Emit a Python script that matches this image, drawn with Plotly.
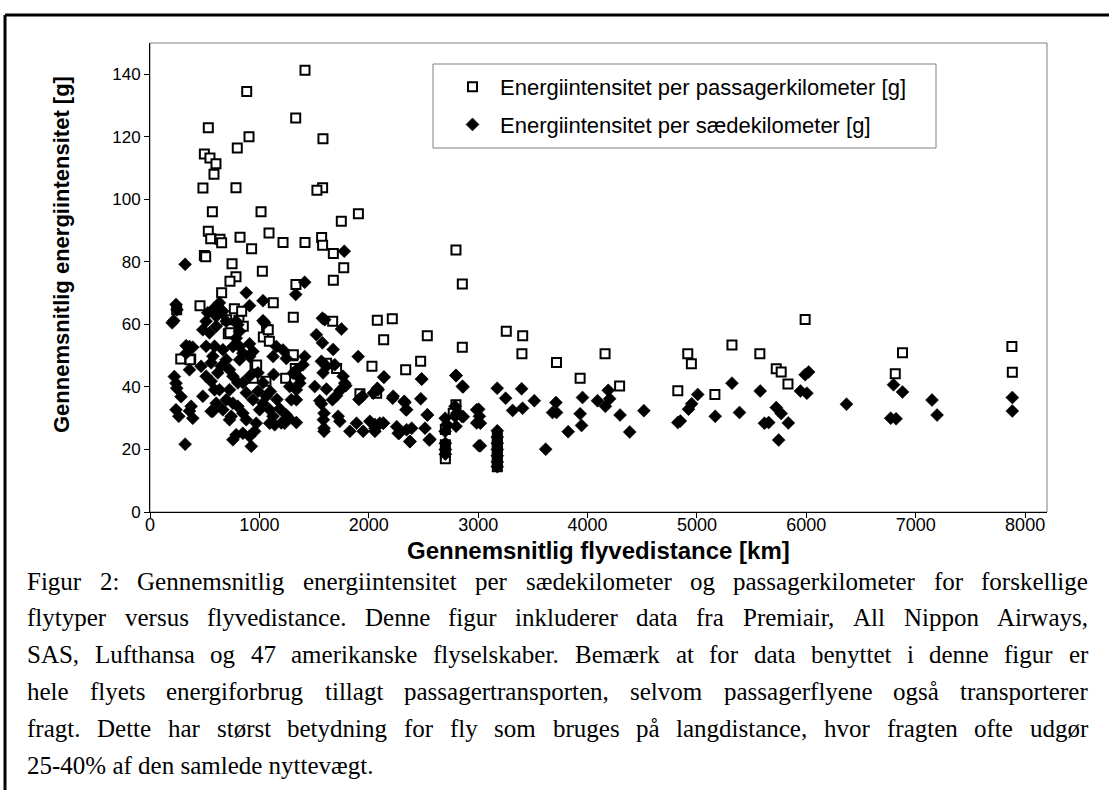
import plotly.graph_objects as go

# ---------------- data ----------------
pkm_x = [1417, 884, 1332, 533, 905, 1581, 798, 497, 548, 603, 585, 484, 786, 1578, 1526, 570, 1015,
         1749, 1905, 533, 555, 640, 655, 823, 929, 1088, 1216, 1417, 1569, 1578, 1676, 2797, 497, 509,
         750, 1027, 1771,
         786, 731, 1676, 1334, 2855, 655, 457, 1127, 771, 244, 1310, 1670, 2078, 2215, 2855, 2136, 2535,
         813, 853, 716, 1066, 1036, 1091, 701, 281, 372, 1304, 960, 1328, 2029, 2474, 2337, 1706, 1615,
         944, 1060, 1240, 1919, 2072, 2797, 2772, 838, 1081, 731, 1310, 366, 975,
         3257, 3407, 3400, 3716, 3932, 4160, 4293, 4825, 4916, 4949, 5164, 5320, 5575, 5725, 5770, 5832,
         5989, 6813, 6879, 7879, 7883,
         3175, 3175, 3175, 3175, 3175, 3175, 2700, 2700, 2700, 2700]
pkm_y = [141.3, 134.5, 126, 122.9, 120, 119.4, 116.4, 114.5, 113.2, 111.4, 108, 103.6, 103.7, 103.7, 102.9,
         96, 96, 93, 95.4, 89.8, 87.4, 87.2, 86.1, 87.9, 84.2, 89.2, 86.2, 86.2, 87.8, 85.3, 82.7, 83.8,
         82, 81.6, 79.4, 77, 78.1,
         75.2, 73.8, 74.1, 72.8, 72.9, 70.1, 66, 66.9, 65, 64.7, 62.3, 61, 61.3, 61.8, 52.7, 55.1, 56.4,
         61.3, 59.4, 57, 58.3, 56, 54.6, 61.5, 48.9, 48.9, 50, 46.6, 45.9, 46.6, 48.2, 45.5, 45.9, 47.6,
         42.8, 41.8, 42.8, 37.8, 38, 34.3, 31.6, 64.2, 58.3, 57.3, 50.3, 48.7, 47,
         57.8, 56.4, 50.6, 47.8, 42.8, 50.6, 40.3, 38.8, 50.6, 47.4, 37.6, 53.4, 50.6, 45.8, 44.8, 40.9,
         61.6, 44.2, 50.9, 52.9, 44.7,
         24, 22, 20, 18, 16, 14.5, 26.4, 21.5, 18.5, 17]

skm_x = [321, 238, 247, 217, 202, 1332, 1414, 880, 910, 1033,
         528, 590, 635, 513, 605, 666, 483, 544, 605, 697, 788, 803, 819, 788, 1033, 1048, 910, 941,
         910, 819, 849, 758, 1155, 1125, 1216, 1246, 1414, 1399, 1338, 1308, 1369, 1338, 1292, 1338,
         1277, 1369, 1338, 1231, 1246, 1521, 1576, 1674, 1750, 1576, 1597, 1567, 1582, 1613, 1689,
         1765, 1780, 1506, 1613, 1552, 1567, 1668, 1705, 1735, 1790, 1591, 1585, 1591, 1591, 1720,
         1735, 1903, 2138, 2086, 2223, 2330, 2346, 2484, 2475, 2536, 1941, 1910, 1827, 1888, 1949,
         2010, 2056, 2132, 2269, 2376, 2346, 2514, 2559, 2056, 2101,
         2698, 2713, 2789, 2789, 2798, 2850, 2804, 2698, 2700, 2700, 2700,
         2798, 2856, 3005, 3011, 3020, 3020,
         223, 238, 244, 284, 238, 263, 376, 391, 361, 321, 330, 361, 391, 330, 361,
         513, 590, 574, 467, 513, 559, 590, 483, 574, 651, 697, 727, 758, 803, 727, 697, 758, 742,
         788, 758, 849, 910, 956, 926, 971, 1002, 1033, 941, 880, 849, 910, 987, 1033, 1063, 1094,
         1124, 1094, 1140, 987, 819, 635, 666, 559, 620, 559, 605, 666, 727, 803, 849, 880,
         1185, 1160, 1270, 1200, 1100, 1130, 1776,
         2139, 2483, 2797, 2861, 3174, 3397, 3251, 3513, 3711, 3680, 3315, 3406, 3823, 3617, 3007,
         2986, 2986, 2535, 2218, 2324, 2340, 2392, 2279, 2255, 2376, 2553, 2041, 2078, 2133, 2057, 2864,
         3716, 3932, 3945, 3954, 4091, 4163, 4189, 4202, 4297, 4385, 4515, 4825, 4848, 4923, 4952,
         5007, 5167, 5320, 5389, 5578, 5617, 5656, 5725, 5747, 5770, 5835, 5946, 6005, 5989, 6021,
         6367, 6771, 6820, 6797, 6879, 7149, 7195, 7883, 7883,
         3175, 3175, 3175, 3175, 3175, 3175, 3175]
skm_y = [79.2, 66.4, 64.7, 61.2, 60.5, 69.6, 73.5, 70.1, 66, 67.6,
         63.7, 65.3, 66.9, 61, 62.6, 64.2, 58.3, 57.3, 59.4, 61, 61, 59.9, 57.8, 55.6, 61.2, 60.5, 53.8,
         51.3, 49.7, 52.9, 50.8, 52.9, 52.9, 49.7, 51.8, 49.1, 49.7, 47.1, 45.4, 44.4, 41.2, 39.1, 35.9,
         35.9, 40.1, 42.8, 28.6, 28.4, 31, 56.7, 54.1, 52, 58.5, 62, 61.5, 48.2, 44.5, 46.6, 47.1,
         43.4, 41.2, 40.1, 39.3, 35.6, 34.6, 35.9, 37.2, 38.8, 40.4, 31.6, 29.5, 26.8, 25.8, 30.6,
         29, 49.7, 43.1, 39.1, 37, 35, 32.7, 42.5, 36.2, 31, 37, 36, 25.8, 28.4, 25.8,
         29, 28, 28.4, 25.2, 22.6, 26.3, 26.8, 23.3, 25.8, 28.4,
         30, 28, 33.8, 30.6, 27.4, 30.6, 31.6, 25.8, 22, 20, 18.5,
         43.6, 40.2, 32.9, 30.6, 28.4, 21.2,
         43.3, 41.2, 39.6, 36.9, 32.7, 30.6, 33.8, 30, 32.3, 21.7, 53.2, 52.9, 52.7, 50.8, 45.5,
         53.0, 53.0, 49.8, 46.6, 43.4, 41.8, 39.1, 37.0, 32.2, 46.6, 48.7, 45.5, 43.4, 41.3, 39.1, 35.9,
         34.8, 30.6, 24.7, 23.1, 25.2, 24.2, 25.8, 21.0, 28.4, 32.7, 34.8, 35.9, 38.1, 41.3, 43.4, 44.5,
         41.3, 37.0, 32.7, 30.6, 28.4, 27.9, 38.6, 48.7, 39.1, 51.9, 47.7, 44.5, 32.2, 34.8, 32.7, 29.5,
         33.8, 31.6, 29.5,
         33, 36, 30, 28.5, 38.5, 44, 83.4,
         43.2, 42.5, 43.7, 40, 39.6, 39.4, 36.4, 35.6, 35, 31.8, 32.5, 33.2, 25.7, 20.1, 21.2,
         32.7, 28.5, 31.1, 36.4, 35.4, 32.7, 26.8, 25.2, 27.3, 22.5, 23, 38, 39.6, 28.4, 26.8, 30.5,
         31.8, 31.4, 27.7, 36.6, 35.6, 33.8, 38.9, 36.2, 31, 25.6, 32.4, 28.6, 29.1, 32.9, 34.6,
         37.6, 30.6, 41.2, 31.8, 38.7, 28.4, 28.6, 33.4, 23, 31.5, 28.5, 38.7, 38, 43.9, 44.8,
         34.5, 30, 29.8, 40.7, 38.4, 35.8, 31, 36.6, 32.3,
         24, 22, 20, 18, 16, 14.5, 26]

series_names = ["Energiintensitet per passagerkilometer [g]",
                "Energiintensitet per sædekilometer [g]"]
x_title = "Gennemsnitlig flyvedistance [km]"
y_title = "Gennemsnitlig energiintensitet [g]"
caption_lines = [
    "Figur 2: Gennemsnitlig energiintensitet per sædekilometer og passagerkilometer for forskellige",
    "flytyper versus flyvedistance. Denne figur inkluderer data fra Premiair, All Nippon Airways,",
    "SAS, Lufthansa og 47 amerikanske flyselskaber. Bemærk at for data benyttet i denne figur er",
    "hele flyets energiforbrug tillagt passagertransporten, selvom passagerflyene også transporterer",
    "fragt. Dette har størst betydning for fly som bruges på langdistance, hvor fragten ofte udgør",
    "25-40% af den samlede nyttevægt.",
]

# ---------------- layout geometry (px) ----------------
W, H = 1109, 790
L, R, T, B = 150, 62, 43, 278
PW, PH = W - L - R, H - T - B


def px_x(x):
    return (x - L) / PW


def px_y(y):
    return (H - B - y) / PH


SANS = "Arial, 'Liberation Sans', sans-serif"
SERIF = "'Times New Roman', 'Liberation Serif', serif"

fig = go.Figure()
fig.add_trace(go.Scatter(
    x=pkm_x, y=pkm_y, mode="markers", name=series_names[0], legendgroup="a",
    marker=dict(symbol="square", size=9, color="white", line=dict(color="black", width=2)),
))
fig.add_trace(go.Scatter(
    x=skm_x, y=skm_y, mode="markers", name=series_names[1], legendgroup="b",
    marker=dict(symbol="diamond", size=10, color="black", line=dict(color="black", width=0.5)),
))

fig.update_layout(
    width=W, height=H,
    margin=dict(l=L, r=R, t=T, b=B),
    paper_bgcolor="white", plot_bgcolor="white",
    font=dict(family=SANS, color="black", size=17),
    showlegend=True,
    legend=dict(
        x=px_x(433), y=px_y(66), xanchor="left", yanchor="top",
        bgcolor="rgba(0,0,0,0)", borderwidth=0,
        font=dict(family=SANS, size=22, color="black"),
        tracegroupgap=6, indentation=12, itemwidth=45,
    ),
    xaxis=dict(
        range=[0, 8200], tickmode="linear", tick0=0, dtick=1000,
        showgrid=False, zeroline=False, showline=True, linecolor="black", linewidth=1,
        ticks="outside", ticklen=5, tickcolor="black", ticklabelstandoff=-9,
        tickfont=dict(family=SANS, size=18, color="black"),
    ),
    yaxis=dict(
        range=[0, 150], tickmode="array", tickvals=[0, 20, 40, 60, 80, 100, 120, 140],
        showgrid=False, zeroline=False, showline=True, linecolor="black", linewidth=1,
        ticks="outside", ticklen=5, tickcolor="black",
        tickfont=dict(family=SANS, size=17, color="black"),
    ),
)

shapes = [
    dict(type="rect", xref="paper", yref="paper", x0=0, x1=1, y0=0, y1=1,
         line=dict(color="#808080", width=1), layer="below"),
    # legend frame
    dict(type="rect", xref="paper", yref="paper", x0=px_x(433), x1=px_x(936), y0=px_y(148), y1=px_y(64),
         line=dict(color="#808080", width=1), fillcolor="white", layer="below"),
    # outer figure frame (top and left visible)
    dict(type="line", xref="paper", yref="paper", x0=px_x(5), x1=px_x(1200), y0=px_y(15), y1=px_y(15),
         line=dict(color="black", width=3)),
    dict(type="line", xref="paper", yref="paper", x0=px_x(5), x1=px_x(5), y0=px_y(15), y1=px_y(900),
         line=dict(color="black", width=3)),
]
fig.update_layout(shapes=shapes)

annotations = [
    dict(text="<b>%s</b>" % x_title, xref="paper", yref="paper", x=px_x(598), y=px_y(550),
         xanchor="center", yanchor="middle", showarrow=False,
         font=dict(family=SANS, size=24, color="black")),
    dict(text="<b>%s</b>" % y_title, xref="paper", yref="paper", x=px_x(62), y=px_y(255),
         xanchor="center", yanchor="middle", showarrow=False, textangle=-90,
         font=dict(family=SANS, size=22, color="black")),
]

# Times New Roman / Liberation Serif advance widths (1/1000 em) for justification
TW = {" ": 250, "%": 833, ",": 250, "-": 333, ".": 250, ":": 278,
      "A": 722, "B": 667, "C": 667, "D": 722, "E": 611, "F": 556, "G": 722, "H": 722, "I": 333,
      "J": 389, "K": 722, "L": 611, "M": 889, "N": 722, "O": 722, "P": 556, "Q": 722, "R": 667,
      "S": 556, "T": 611, "U": 722, "V": 722, "W": 944, "X": 722, "Y": 722, "Z": 611,
      "a": 444, "b": 500, "c": 444, "d": 500, "e": 444, "f": 333, "g": 500, "h": 500, "i": 278,
      "j": 278, "k": 500, "l": 278, "m": 778, "n": 500, "o": 500, "p": 500, "q": 500, "r": 333,
      "s": 389, "t": 278, "u": 500, "v": 500, "w": 722, "x": 500, "y": 500, "z": 444,
      "æ": 667, "ø": 500, "å": 444}
CAP_SIZE = 25
CAP_LEFT, CAP_RIGHT = 25, 1086
cap_y0, cap_dy = 581, 36.8


def text_w(s):
    return sum(TW.get(c, 500) for c in s) / 1000.0 * CAP_SIZE


for i, line in enumerate(caption_lines):
    yy = px_y(cap_y0 + i * cap_dy)
    words = line.split(" ")
    if i == len(caption_lines) - 1:
        annotations.append(dict(text=line, xref="paper", yref="paper", x=px_x(CAP_LEFT), y=yy,
                                xanchor="left", yanchor="middle", showarrow=False,
                                font=dict(family=SERIF, size=CAP_SIZE, color="black")))
        continue
    widths = [text_w(w) for w in words]
    gap = max((CAP_RIGHT - CAP_LEFT - sum(widths)) / (len(words) - 1), 0.25 * CAP_SIZE)
    xpos = CAP_LEFT
    for w, wd in zip(words, widths):
        annotations.append(dict(text=w, xref="paper", yref="paper", x=px_x(xpos), y=yy,
                                xanchor="left", yanchor="middle", showarrow=False,
                                font=dict(family=SERIF, size=CAP_SIZE, color="black")))
        xpos += wd + gap

fig.update_layout(annotations=annotations)

fig.write_html("out.html", config={"displayModeBar": False},
               post_script="document.body.style.margin='0px';")
